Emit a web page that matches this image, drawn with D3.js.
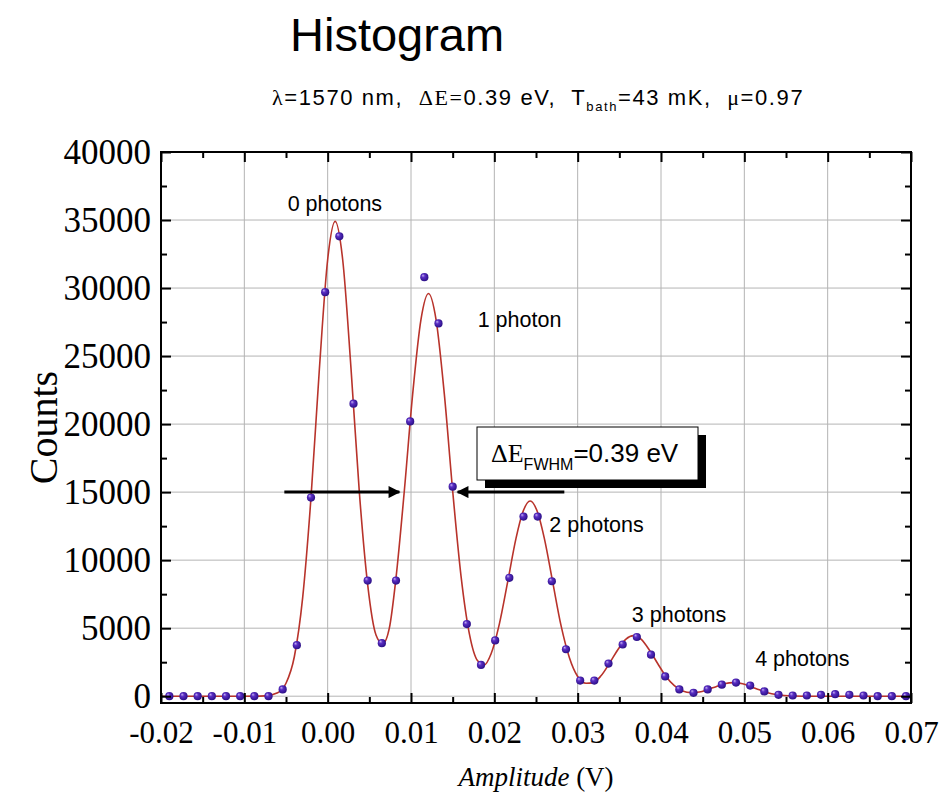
<!DOCTYPE html>
<html>
<head>
<meta charset="utf-8">
<title>Histogram</title>
<style>
  body { margin: 0; background: #fff; }
  svg { display: block; }
  .axis text { font-family: "Liberation Serif", "Times New Roman", serif; font-size: 31px; fill: #000; }
  .axis.yl text { font-size: 35px; }
  .axis line { stroke: #000; stroke-width: 2; }
  .axis path { display: none; }
  .grid line { stroke: #b4b4b4; stroke-width: 1; }
  .note { font-family: "Liberation Sans", Arial, sans-serif; font-size: 21.5px; fill: #000; }
</style>
</head>
<body>
<div id="chart"></div>
<script src="https://d3js.org/d3.v7.min.js"></script>
<script>
// histogram bins (V) and counts
const amplitudes = [-0.0190, -0.0173, -0.0156, -0.0139, -0.0122, -0.0105, -0.0088, -0.0071, -0.0054, -0.0037,
  -0.0020, -0.0003, 0.0014, 0.0031, 0.0048, 0.0065, 0.0082, 0.0099, 0.0116, 0.0133,
  0.0150, 0.0167, 0.0184, 0.0201, 0.0218, 0.0235, 0.0252, 0.0269, 0.0286, 0.0303,
  0.0320, 0.0337, 0.0354, 0.0371, 0.0388, 0.0405, 0.0422, 0.0439, 0.0456, 0.0473,
  0.0490, 0.0507, 0.0524, 0.0541, 0.0558, 0.0575, 0.0592, 0.0609, 0.0626, 0.0643,
  0.0660, 0.0677, 0.0694];
const counts = [0, 0, 0, 0, 0, 0, 0, 0, 500, 3750,
  14600, 29700, 33800, 21500, 8500, 3900, 8500, 20200, 30800, 27400,
  15400, 5300, 2300, 4100, 8700, 13200, 13200, 8450, 3450, 1150,
  1150, 2400, 3800, 4350, 3050, 1450, 500, 250, 500, 850,
  1000, 780, 350, 100, 50, 50, 100, 150, 100, 50,
  0, 0, 0];

// fitted curve
const fitX = [-0.0200, -0.0100, -0.0075, -0.0060, -0.0050, -0.0040, -0.0030, -0.0020, -0.0010, 0.0000,
  0.0009, 0.0018, 0.0028, 0.0038, 0.0048, 0.0058, 0.0066, 0.0074, 0.0082, 0.0092,
  0.0102, 0.0112, 0.0121, 0.0130, 0.0140, 0.0150, 0.0160, 0.0170, 0.0180, 0.0188,
  0.0196, 0.0206, 0.0216, 0.0226, 0.0234, 0.0243, 0.0252, 0.0260, 0.0270, 0.0280,
  0.0290, 0.0300, 0.0310, 0.0318, 0.0328, 0.0338, 0.0348, 0.0358, 0.0367, 0.0376,
  0.0386, 0.0396, 0.0406, 0.0416, 0.0426, 0.0436, 0.0446, 0.0456, 0.0466, 0.0476,
  0.0487, 0.0498, 0.0508, 0.0518, 0.0528, 0.0538, 0.0548, 0.0560, 0.0580, 0.0700];
const fitY = [0, 0, 25, 250, 950, 2900, 7250, 14600, 24000, 32100,
  34900, 32100, 24100, 15000, 8200, 4500, 3850, 5000, 8700, 15100,
  22200, 27700, 29600, 27700, 22200, 15100, 8850, 4600, 2600, 2300,
  3100, 5300, 8400, 11600, 13500, 14350, 13500, 11600, 8400, 5200,
  2850, 1450, 950, 980, 1500, 2400, 3400, 4200, 4450, 4200,
  3400, 2400, 1450, 770, 390, 260, 305, 480, 700, 910,
  1000, 910, 700, 465, 260, 125, 50, 15, 0, 0];

const xTicks = [-0.02, -0.01, 0.00, 0.01, 0.02, 0.03, 0.04, 0.05, 0.06, 0.07];
const xMinor = [-0.015, -0.005, 0.005, 0.015, 0.025, 0.035, 0.045, 0.055, 0.065];
const yTicks = [0, 5000, 10000, 15000, 20000, 25000, 30000, 35000, 40000];
const yMinor = [2500, 7500, 12500, 17500, 22500, 27500, 32500, 37500];

// peak labels: [text, amplitude, counts] (left edge, baseline)
const peakLabels = [
  ["0 photons", -0.0048, 35650],
  ["1 photon", 0.0180, 27150],
  ["2 photons", 0.0266, 12100],
  ["3 photons", 0.0365, 5450],
  ["4 photons", 0.0513, 2200]
];
// FWHM arrows at half maximum of the 1-photon peak
const arrowLevel = 15000;
const arrowLeft = [-0.0052, 0.0086];
const arrowRight = [0.0284, 0.0156];

const width = 943, height = 806;
const margin = { top: 152, right: 32, bottom: 103, left: 161 };

const svg = d3.select("#chart").append("svg")
  .attr("width", width)
  .attr("height", height);

const defs = svg.append("defs");
const grad = defs.append("radialGradient")
  .attr("id", "ball")
  .attr("cx", "45%").attr("cy", "45%").attr("r", "60%")
  .attr("fx", "32%").attr("fy", "28%");
grad.append("stop").attr("offset", "0%").attr("stop-color", "#c4b2f2");
grad.append("stop").attr("offset", "35%").attr("stop-color", "#5a2ec4");
grad.append("stop").attr("offset", "100%").attr("stop-color", "#260c80");

defs.append("clipPath").attr("id", "clip")
  .append("rect")
  .attr("x", margin.left).attr("y", margin.top)
  .attr("width", width - margin.left - margin.right)
  .attr("height", height - margin.top - margin.bottom);

const x = d3.scaleLinear()
  .domain([-0.02, 0.07])
  .range([margin.left, width - margin.right]);
const y = d3.scaleLinear()
  .domain([-500, 40000])
  .range([height - margin.bottom, margin.top]);

const plotBottom = height - margin.bottom, plotTop = margin.top;
const plotLeft = margin.left, plotRight = width - margin.right;

// grid
svg.append("g").attr("class", "grid")
  .selectAll("line").data(xTicks).join("line")
  .attr("x1", d => x(d)).attr("x2", d => x(d))
  .attr("y1", plotTop).attr("y2", plotBottom);
svg.append("g").attr("class", "grid")
  .selectAll("line").data(yTicks).join("line")
  .attr("x1", plotLeft).attr("x2", plotRight)
  .attr("y1", d => y(d)).attr("y2", d => y(d));

// fitted curve
const line = d3.line()
  .x((d, i) => x(fitX[i]))
  .y(d => y(d))
  .curve(d3.curveMonotoneX);
svg.append("path")
  .datum(fitY)
  .attr("clip-path", "url(#clip)")
  .attr("fill", "none")
  .attr("stroke", "#b8332b")
  .attr("stroke-width", 1.6)
  .attr("d", line);

// data points
svg.append("g")
  .selectAll("circle")
  .data(counts)
  .join("circle")
  .attr("cx", (d, i) => x(amplitudes[i]))
  .attr("cy", d => y(d))
  .attr("r", 4.1)
  .attr("fill", "url(#ball)");

// axes, ticks pointing inward
svg.append("g").attr("class", "axis")
  .attr("transform", `translate(0,${plotBottom})`)
  .call(d3.axisBottom(x).tickValues(xTicks).tickFormat(d => d.toFixed(2)).tickSize(-10).tickPadding(18));
svg.append("g").attr("class", "axis")
  .attr("transform", `translate(0,${plotBottom})`)
  .call(d3.axisBottom(x).tickValues(xMinor).tickFormat("").tickSize(-6));
svg.append("g").attr("class", "axis")
  .attr("transform", `translate(0,${plotTop})`)
  .call(d3.axisTop(x).tickValues(xTicks).tickFormat("").tickSize(-10));
svg.append("g").attr("class", "axis")
  .attr("transform", `translate(0,${plotTop})`)
  .call(d3.axisTop(x).tickValues(xMinor).tickFormat("").tickSize(-6));

svg.append("g").attr("class", "axis yl")
  .attr("transform", `translate(${plotLeft},0)`)
  .call(d3.axisLeft(y).tickValues(yTicks).tickFormat(d3.format("d")).tickSize(-10).tickPadding(10));
svg.append("g").attr("class", "axis")
  .attr("transform", `translate(${plotLeft},0)`)
  .call(d3.axisLeft(y).tickValues(yMinor).tickFormat("").tickSize(-6));
svg.append("g").attr("class", "axis")
  .attr("transform", `translate(${plotRight},0)`)
  .call(d3.axisRight(y).tickValues(yTicks).tickFormat("").tickSize(-10));
svg.append("g").attr("class", "axis")
  .attr("transform", `translate(${plotRight},0)`)
  .call(d3.axisRight(y).tickValues(yMinor).tickFormat("").tickSize(-6));

// frame
svg.append("rect")
  .attr("x", plotLeft).attr("y", plotTop)
  .attr("width", plotRight - plotLeft).attr("height", plotBottom - plotTop)
  .attr("fill", "none")
  .attr("stroke", "#000")
  .attr("stroke-width", 2);

// peak labels
svg.append("g")
  .selectAll("text")
  .data(peakLabels)
  .join("text")
  .attr("class", "note")
  .attr("x", d => x(d[1]))
  .attr("y", d => y(d[2]))
  .text(d => d[0]);

// FWHM arrows
defs.append("marker")
  .attr("id", "head")
  .attr("viewBox", "0 0 10 10")
  .attr("refX", 9).attr("refY", 5)
  .attr("markerWidth", 6).attr("markerHeight", 4)
  .attr("markerUnits", "strokeWidth")
  .attr("orient", "auto")
  .append("path")
  .attr("d", "M0,0 L10,5 L0,10 Z")
  .attr("fill", "#000");

[arrowLeft, arrowRight].forEach(a => {
  svg.append("line")
    .attr("x1", x(a[0])).attr("x2", x(a[1]))
    .attr("y1", y(arrowLevel)).attr("y2", y(arrowLevel))
    .attr("stroke", "#000")
    .attr("stroke-width", 3)
    .attr("marker-end", "url(#head)");
});

// FWHM box with drop shadow
const bx = 477, by = 427, bw = 221, bh = 53;
svg.append("rect").attr("x", bx + 8).attr("y", by + 8).attr("width", bw).attr("height", bh).attr("fill", "#000");
svg.append("rect").attr("x", bx).attr("y", by).attr("width", bw).attr("height", bh)
  .attr("fill", "#fff").attr("stroke", "#000").attr("stroke-width", 1);
const bt = svg.append("text")
  .attr("x", bx + 14).attr("y", by + 35)
  .attr("font-family", "Liberation Sans, Arial, sans-serif")
  .attr("font-size", 26);
bt.append("tspan").attr("font-family", "Liberation Serif, serif").text("\u0394E");
bt.append("tspan").attr("font-size", 16).attr("dy", 8).text("FWHM");
bt.append("tspan").attr("dy", -8).text("=0.39 eV");

// titles
svg.append("text")
  .attr("x", 290).attr("y", 51)
  .attr("font-family", "Liberation Sans, Arial, sans-serif")
  .attr("font-size", 47)
  .text("Histogram");

const sub = svg.append("text")
  .attr("x", 272).attr("y", 105)
  .attr("font-family", "Liberation Sans, Arial, sans-serif")
  .attr("font-size", 22)
  .attr("letter-spacing", 1.6)
  .style("white-space", "pre");
sub.append("tspan").attr("font-family", "Liberation Serif, serif").text("\u03bb");
sub.append("tspan").text("=1570 nm,  ");
sub.append("tspan").attr("font-family", "Liberation Serif, serif").text("\u0394E=");
sub.append("tspan").text("0.39 eV,  T");
sub.append("tspan").attr("font-size", 13).attr("dy", 6).text("bath");
sub.append("tspan").attr("dy", -6).text("=43 mK,  ");
sub.append("tspan").attr("font-family", "Liberation Serif, serif").text("\u03bc");
sub.append("tspan").text("=0.97");

svg.append("text")
  .attr("transform", `translate(57,${(plotTop + plotBottom) / 2}) rotate(-90)`)
  .attr("text-anchor", "middle")
  .attr("font-family", "Liberation Serif, serif")
  .attr("font-size", 40)
  .text("Counts");

const xt = svg.append("text")
  .attr("x", (plotLeft + plotRight) / 2).attr("y", 786)
  .attr("text-anchor", "middle")
  .attr("font-family", "Liberation Serif, serif")
  .attr("font-size", 27);
xt.append("tspan").attr("font-style", "italic").text("Amplitude");
xt.append("tspan").text(" (V)");
</script>
</body>
</html>
